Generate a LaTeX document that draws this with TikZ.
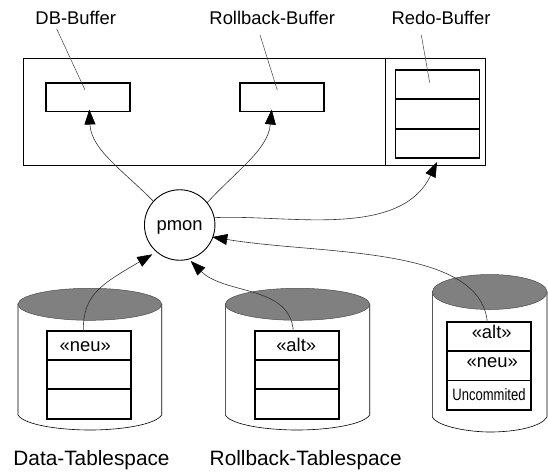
\documentclass[tikz,border=0pt]{standalone}
\usepackage{fontspec}
\setmainfont{Liberation Sans}
\usetikzlibrary{arrows.meta}
\tikzset{
  frame/.style={draw=black,line width=0.9pt},
  cell/.style={draw=black,line width=1.6pt,minimum width=84pt,inner sep=0pt,outer sep=0pt},
  leader/.style={draw=black!75,line width=0.5pt},
  flow/.style={draw=black!80,line width=0.6pt,-{Triangle[length=15pt,width=11pt,color=black]}},
  lbl/.style={anchor=base,inner sep=0pt,font=\fontsize{18.4}{20}\selectfont,text=black},
  biglbl/.style={lbl,font=\fontsize{20.8}{24}\selectfont},
  cyl/.style={draw=black,line width=0.6pt,fill=white},
  cyltop/.style={draw=black!70,line width=0.5pt,fill=black!50},
}
\begin{document}
\begin{tikzpicture}[x=1pt,y=-1pt]
\useasboundingbox (0,0) rectangle (548,474);
% memory frame
\node[frame,minimum width=462pt,minimum height=106.5pt,inner sep=0pt,outer sep=0pt] (sga) at (254.5,111.8) {};
\coordinate (divT) at (385,59);
\coordinate (divB) at (385,165);
\draw[line width=0.7pt] (divT) -- (divB);
% buffers
\node[cell,minimum height=28.7pt] (db) at (88,97.3) {};
\node[cell,minimum height=28.7pt] (rb) at (282,97.3) {};
\node[cell,minimum height=29pt] (redoA) at (437.3,84.5) {};
\node[cell,minimum height=29.5pt] (redoB) at (437.3,113.8) {};
\node[cell,minimum height=29pt] (redoC) at (437.3,143.2) {};
% cylinders
\draw[cyl] (18,304) -- (18,415) .. controls (24,425) and (60,430) .. (90,430) .. controls (120,430) and (155,425) .. (161.7,415) -- (161.7,304) -- cycle;
\draw[cyltop] (89.8,304.3) ellipse [x radius=71.8pt,y radius=16pt];
\draw[cyl] (225.3,304) -- (225.3,415) .. controls (231,425) and (267,430) .. (297,430) .. controls (327,430) and (363,425) .. (369.7,415) -- (369.7,304) -- cycle;
\draw[cyltop] (297.5,304.3) ellipse [x radius=72.2pt,y radius=16pt];
\draw[cyl] (432.3,292) -- (432.3,417) .. controls (438,427) and (470,432) .. (490,432) .. controls (515,432) and (541,427) .. (547,417) -- (547,292) -- cycle;
\draw[cyltop] (489.7,292) ellipse [x radius=57.3pt,y radius=17.5pt];
% compartments
\node[cell,minimum height=29pt] (dA) at (88.9,345.3) {};
\node[cell,minimum height=29pt] (dB) at (88.9,374.2) {};
\node[cell,minimum height=30pt] (dC) at (88.9,403.7) {};
\node[cell,minimum height=29pt] (rA) at (297,345.3) {};
\node[cell,minimum height=29pt] (rB) at (297,374.2) {};
\node[cell,minimum height=30pt] (rC) at (297,403.7) {};
\node[cell,minimum height=29pt] (uA) at (489,336.5) {};
\node[cell,minimum height=29.3pt] (uB) at (489,365.7) {};
\node[cell,minimum height=29.4pt] (uC) at (489,395) {};
% pmon
\node[circle,draw=black,line width=0.9pt,minimum size=70.5pt,inner sep=0pt,outer sep=0pt] (pmon) at (179.7,225) {};
% labels
\node[lbl] (tDB) at (75.7,24.7) {DB-Buffer};
\node[lbl] (tRB) at (272.2,24.7) {Rollback-Buffer};
\node[lbl] (tRedo) at (441,24.7) {Redo-Buffer};
\node[lbl] (tPmon) at (179.7,230) {pmon};
\node[biglbl] (tData) at (91.5,465.7) {Data-Tablespace};
\node[biglbl] (tRoll) at (305.7,465.7) {Rollback-Tablespace};
\node[lbl] (tNeuA) at (85.3,351) {«neu»};
\node[lbl] (tAltA) at (296.2,351) {«alt»};
\node[lbl] (tAltB) at (491.7,338) {«alt»};
\node[lbl] (tNeuB) at (492.3,367) {«neu»};
\node[lbl] (tUnc) at (489,400.3) {\fontsize{16.5}{18}\selectfont\scalebox{.79}[1]{Uncommited}};
% leaders
\coordinate (lDBa) at (56.7,29);
\coordinate (lDBb) at (85,90);
\coordinate (lRBa) at (260,35);
\coordinate (lRBb) at (277.3,90);
\coordinate (lRDa) at (421.3,35);
\coordinate (lRDb) at (429.7,82.7);
\draw[leader] (lDBa) -- (lDBb);
\draw[leader] (lRBa) -- (lRBb);
\draw[leader] (lRDa) -- (lRDb);
% arrows
\coordinate (tipDB) at (89.3,109.5);
\coordinate (tipRB) at (271.7,109.5);
\coordinate (tipRD) at (437,162);
\coordinate (tipA) at (152.3,254.3);
\coordinate (tipB) at (190.7,261);
\coordinate (tipC) at (212.3,237);
\coordinate (srcA) at (83.3,331);
\coordinate (srcB) at (293.3,331);
\coordinate (srcC) at (487.3,322);
\draw[flow] (pmon.138) .. controls (125,172) and (91,150) .. (tipDB);
\draw[flow] (pmon.39) .. controls (235,172) and (268,150) .. (tipRB);
\draw[flow] (pmon.12) .. controls (285,214) and (400,240) .. (tipRD);
\draw[flow] (srcA) .. controls (83,295) and (100,285) .. (tipA);
\draw[flow] (srcB) .. controls (290,285) and (225,295) .. (tipB);
\draw[flow] (srcC) .. controls (480,245) and (320,255) .. (tipC);
\end{tikzpicture}
\end{document}
